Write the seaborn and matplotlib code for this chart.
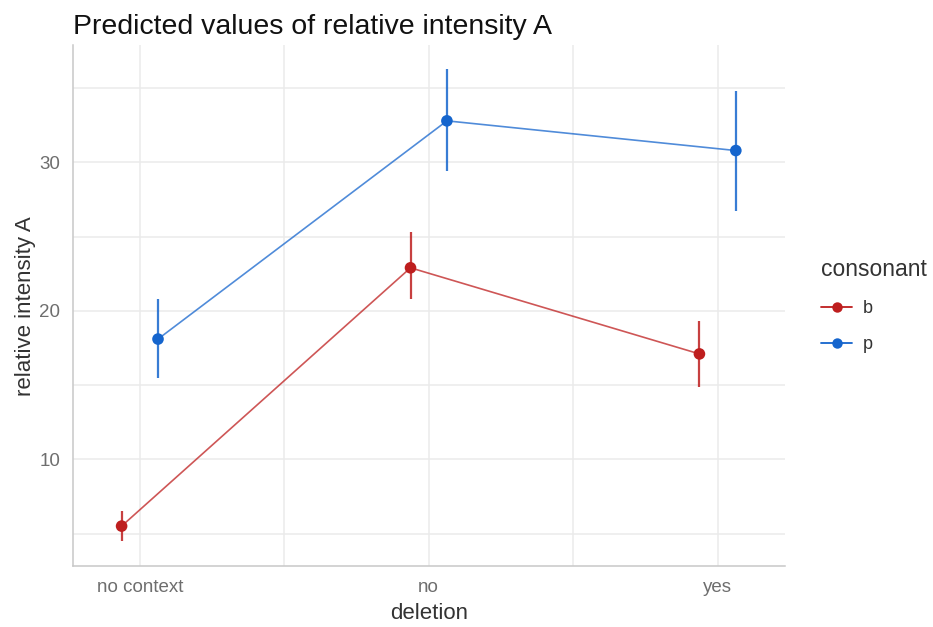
import numpy as np
import pandas as pd
import matplotlib
matplotlib.use("Agg")
import matplotlib.pyplot as plt
from matplotlib.lines import Line2D
import seaborn as sns

# Predicted values with 95% confidence intervals
deletion = ["no context", "no", "yes"]
consonants = ["b", "p"]
pred_b = [5.5, 22.9, 17.1]
low_b = [4.5, 20.8, 14.9]
high_b = [6.5, 25.3, 19.3]
pred_p = [18.1, 32.8, 30.8]
low_p = [15.5, 29.4, 26.7]
high_p = [20.8, 36.3, 34.8]

colors = {"b": "#BE1E1E", "p": "#1565CD"}
dodge = {"b": -0.063, "p": 0.063}

rows = []
for cons, pr, lo, hi in [("b", pred_b, low_b, high_b), ("p", pred_p, low_p, high_p)]:
    for i, d in enumerate(deletion):
        rows.append({"deletion": d, "pos": i + dodge[cons], "consonant": cons,
                     "predicted": pr[i], "conf_low": lo[i], "conf_high": hi[i]})
df = pd.DataFrame(rows)

sns.set_theme(style="white")
plt.rcParams["font.family"] = ["Liberation Sans", "DejaVu Sans"]

fig = plt.figure(figsize=(9.33, 6.27), dpi=100)
ax = fig.add_axes([0.078, 0.097, 0.763, 0.831])

# grid
for y in [5, 10, 15, 20, 25, 30, 35]:
    ax.axhline(y, color="#ebebeb", lw=1.1, zorder=0)
for x in [0, 0.5, 1, 1.5, 2]:
    ax.axvline(x, color="#ebebeb", lw=1.1, zorder=0)

# connecting lines
sns.lineplot(data=df, x="pos", y="predicted", hue="consonant", palette=colors,
             hue_order=consonants, lw=1.2, alpha=0.75, legend=False, ax=ax, zorder=2)

# confidence intervals
for cons in consonants:
    sub = df[df["consonant"] == cons]
    ax.vlines(sub["pos"], sub["conf_low"], sub["conf_high"], color=colors[cons],
              lw=1.6, alpha=0.85, zorder=3)

# points
sns.scatterplot(data=df, x="pos", y="predicted", hue="consonant", palette=colors,
                hue_order=consonants, s=70, edgecolor="none", legend=False, ax=ax, zorder=4)

ax.set_xlim(-0.232, 2.232)
ax.set_ylim(2.8, 37.9)
ax.set_xticks(range(len(deletion)))
ax.set_xticklabels(deletion)
ax.set_yticks([10, 20, 30])
ax.tick_params(axis="both", length=0, labelsize=13.5, labelcolor="#6e6e6e", pad=9)

for side in ["top", "right"]:
    ax.spines[side].set_visible(False)
for side in ["left", "bottom"]:
    ax.spines[side].set_color("#c8c8c8")
    ax.spines[side].set_linewidth(1.1)

ax.set_xlabel("deletion", fontsize=16, color="#333333", labelpad=5)
ax.set_ylabel("relative intensity A", fontsize=16, color="#333333", labelpad=2)
ax.set_title("Predicted values of relative intensity A", fontsize=20.5, color="#111111",
             loc="left", x=0.0, pad=8)

# legend
handles = [Line2D([0], [0], color=colors[c], lw=1.3, marker="o", markersize=7.5,
                  markeredgewidth=0) for c in consonants]
leg = ax.legend(handles, consonants, title="consonant", loc="center left",
                bbox_to_anchor=(1.039, 0.5), frameon=False, fontsize=13,
                title_fontsize=16.5, handlelength=1.7, handletextpad=0.6,
                labelspacing=1.05, alignment="left", borderpad=0)
leg.get_title().set_color("#333333")
for t in leg.get_texts():
    t.set_color("#333333")

fig.savefig("out.png", dpi=100)
